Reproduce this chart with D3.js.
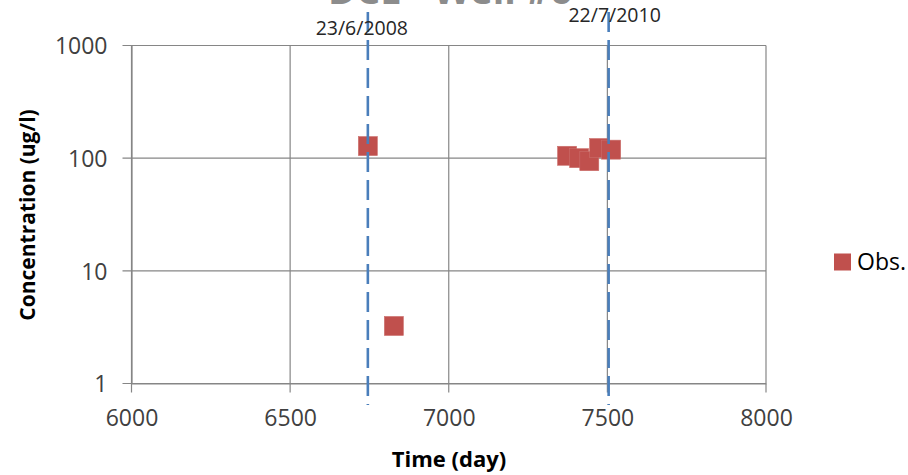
<!DOCTYPE html>
<html>
<head>
<meta charset="utf-8">
<script src="https://cdn.jsdelivr.net/npm/d3@7"></script>
<style>
  html, body { margin: 0; padding: 0; background: #fff; }
  svg { display: block; font-family: "Open Sans", sans-serif; }
</style>
</head>
<body>
<script>
// observations: time (day) and concentration (ug/l)
const obsDays = [6745, 6827, 7373, 7411, 7443, 7474, 7512];
const obsConc = [128, 3.24, 105, 100, 94, 123, 119];

// event markers
const eventDays = [6745, 7504];
const eventLabels = ["23/6/2008", "22/7/2010"];

const xTicks = [6000, 6500, 7000, 7500, 8000];
const yTicks = [1, 10, 100, 1000];

const width = 908;
const height = 475;
const plot = { left: 131.5, right: 766, top: 45.5, bottom: 383.5 };

const svg = d3.select("body")
  .append("svg")
  .attr("width", width)
  .attr("height", height);

svg.append("rect").attr("width", width).attr("height", height).attr("fill", "#fff");

const x = d3.scaleLinear().domain([6000, 8000]).range([plot.left, plot.right]);
const y = d3.scaleLog().domain([1, 1000]).range([plot.bottom, plot.top]);

// title (cut off at top)
svg.append("text")
  .attr("x", 450)
  .attr("y", 4)
  .attr("text-anchor", "middle")
  .attr("font-size", 38)
  .attr("font-weight", "bold")
  .attr("fill", "#8c8c8c")
  .text("DCE - Well #6");

// gridlines
const grid = svg.append("g").attr("stroke", "#868686").attr("stroke-width", 1.2);
grid.selectAll("line.h")
  .data(yTicks)
  .join("line")
  .attr("class", "h")
  .attr("x1", plot.left - 9)
  .attr("x2", plot.right)
  .attr("y1", d => y(d))
  .attr("y2", d => y(d));
grid.selectAll("line.v")
  .data(xTicks)
  .join("line")
  .attr("class", "v")
  .attr("x1", d => x(d))
  .attr("x2", d => x(d))
  .attr("y1", plot.top)
  .attr("y2", plot.bottom + 9);

// axes
const yAxis = svg.append("g")
  .attr("transform", `translate(${plot.left},0)`)
  .call(d3.axisLeft(y).tickValues(yTicks).tickFormat(d3.format("d")).tickSize(0).tickPadding(24));
const xAxis = svg.append("g")
  .attr("transform", `translate(0,${plot.bottom})`)
  .call(d3.axisBottom(x).tickValues(xTicks).tickFormat(d3.format("d")).tickSize(0).tickPadding(26));
[yAxis, xAxis].forEach(a => {
  a.select(".domain").attr("stroke", "#868686").attr("stroke-width", 1.2);
  a.selectAll("text")
    .attr("font-size", 23)
    .attr("fill", "#404040")
    .attr("font-family", "\"Open Sans\", sans-serif");
});
yAxis.selectAll("text").attr("dy", "0.36em");

// observations
svg.append("g")
  .selectAll("rect")
  .data(obsDays.map((d, i) => ({ day: d, conc: obsConc[i] })))
  .join("rect")
  .attr("x", d => x(d.day) - 9.5)
  .attr("y", d => y(d.conc) - 9.5)
  .attr("width", 19)
  .attr("height", 19)
  .attr("fill", "#C0504D")
  .attr("stroke", "#CB6E6B")
  .attr("stroke-width", 0.6);

// event lines
const labelPos = [{ dx: -6, cy: 27.5 }, { dx: 6, cy: 15 }];
const events = svg.append("g");
events.selectAll("line")
  .data(eventDays)
  .join("line")
  .attr("x1", d => x(d))
  .attr("x2", d => x(d))
  .attr("y1", 12)
  .attr("y2", 405)
  .attr("stroke", "#4A7EBB")
  .attr("stroke-width", 2.6)
  .attr("stroke-dasharray", "20,8");
events.selectAll("text")
  .data(eventDays)
  .join("text")
  .attr("x", (d, i) => x(d) + labelPos[i].dx)
  .attr("y", (d, i) => labelPos[i].cy)
  .attr("dy", "0.36em")
  .attr("text-anchor", "middle")
  .attr("font-size", 19.5)
  .attr("fill", "#262626")
  .text((d, i) => eventLabels[i]);

// axis titles
svg.append("text")
  .attr("transform", "translate(27,215) rotate(-90)")
  .attr("text-anchor", "middle")
  .attr("dy", "0.36em")
  .attr("font-size", 21)
  .attr("font-weight", "bold")
  .attr("fill", "#000")
  .text("Concentration (ug/l)");
svg.append("text")
  .attr("x", 449)
  .attr("y", 459)
  .attr("dy", "0.36em")
  .attr("text-anchor", "middle")
  .attr("font-size", 22)
  .attr("font-weight", "bold")
  .attr("fill", "#000")
  .text("Time (day)");

// legend
const legend = svg.append("g").attr("transform", "translate(834,262)");
legend.append("rect")
  .attr("x", 0)
  .attr("y", -8.5)
  .attr("width", 17)
  .attr("height", 17)
  .attr("fill", "#C0504D");
legend.append("text")
  .attr("x", 23)
  .attr("y", 0)
  .attr("dy", "0.36em")
  .attr("font-size", 23)
  .attr("fill", "#000")
  .text("Obs.");
</script>
</body>
</html>
